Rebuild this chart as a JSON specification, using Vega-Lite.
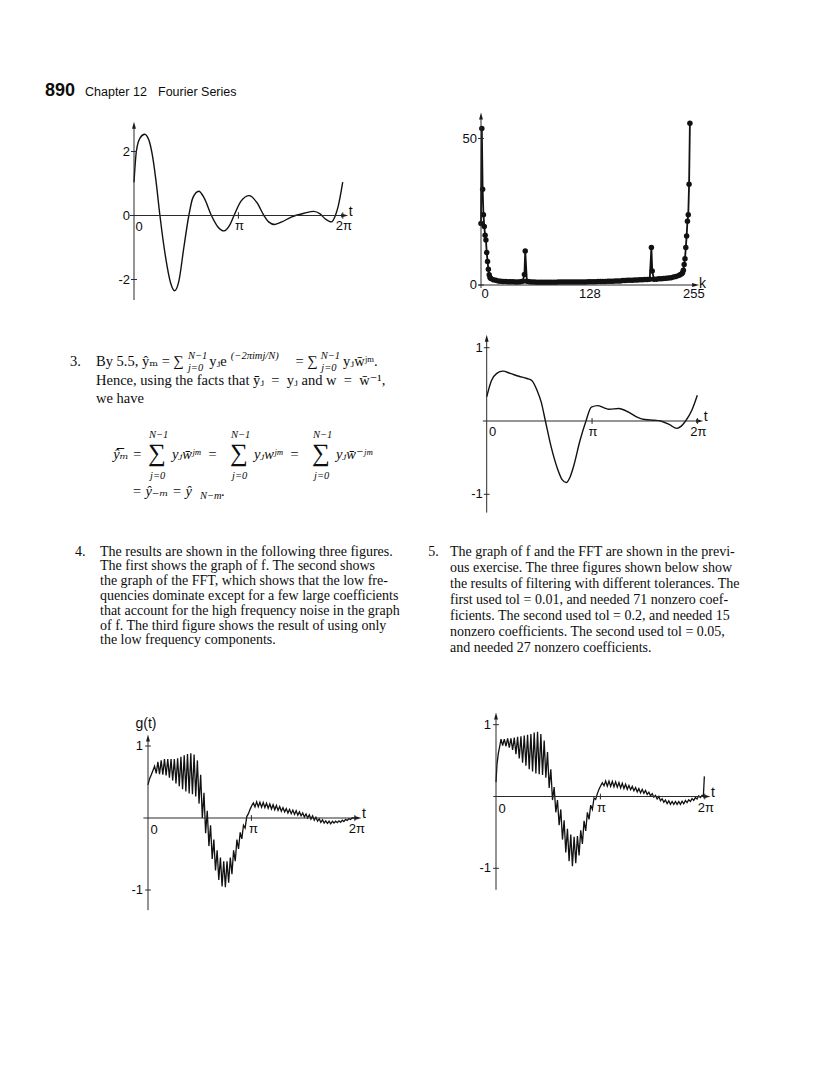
{
 "$schema": "https://vega.github.io/schema/vega-lite/v6.json",
 "width": 840,
 "height": 1076,
 "autosize": {"type": "none"},
 "padding": 0,
 "background": "#ffffff",
 "config": {"view": {"stroke": null}, "text": {"font": "Liberation Serif, DejaVu Serif, serif", "color": "#0d0d0d"}},
 "datasets": {
  "p1": [{"t":0,"v":1.04},{"t":0.07,"v":2.0},{"t":0.18,"v":2.42},{"t":0.32,"v":2.54},{"t":0.45,"v":2.35},{"t":0.55,"v":1.9},{"t":0.66,"v":1.1},{"t":0.78,"v":0},{"t":0.95,"v":-1.3},{"t":1.1,"v":-2.1},{"t":1.22,"v":-2.35},{"t":1.35,"v":-2.05},{"t":1.5,"v":-1.0},{"t":1.65,"v":0},{"t":1.77,"v":0.55},{"t":1.95,"v":0.76},{"t":2.11,"v":0.55},{"t":2.33,"v":0},{"t":2.52,"v":-0.35},{"t":2.71,"v":-0.48},{"t":2.88,"v":-0.3},{"t":3.01,"v":0},{"t":3.22,"v":0.45},{"t":3.47,"v":0.62},{"t":3.7,"v":0.4},{"t":3.91,"v":0},{"t":4.05,"v":-0.2},{"t":4.23,"v":-0.28},{"t":4.45,"v":-0.2},{"t":4.73,"v":-0.05},{"t":5.12,"v":0.07},{"t":5.41,"v":0.13},{"t":5.6,"v":0.05},{"t":5.75,"v":-0.1},{"t":5.94,"v":-0.2},{"t":6.06,"v":0},{"t":6.14,"v":0.27},{"t":6.28,"v":1.04}],
  "p2": [{"k":0,"v":21},{"k":1,"v":53.4},{"k":2,"v":32.7},{"k":3,"v":24},{"k":4,"v":20},{"k":5,"v":17},{"k":6,"v":15.4},{"k":7,"v":11.1},{"k":8,"v":8},{"k":9,"v":5.4},{"k":10,"v":3.5},{"k":11,"v":2.6},{"k":12,"v":2.2},{"k":15,"v":1.8},{"k":18,"v":1.6},{"k":21,"v":1.4},{"k":24,"v":1.3},{"k":27,"v":1.2},{"k":30,"v":1.2},{"k":33,"v":1.1},{"k":36,"v":1.1},{"k":39,"v":1.1},{"k":42,"v":1.0},{"k":45,"v":1.0},{"k":48,"v":1.1},{"k":51,"v":1.3},{"k":53,"v":3.6},{"k":54,"v":11.6},{"k":56,"v":1.3},{"k":59,"v":1.1},{"k":62,"v":1.0},{"k":65,"v":1.0},{"k":68,"v":0.9},{"k":71,"v":0.9},{"k":74,"v":0.9},{"k":77,"v":0.9},{"k":80,"v":0.9},{"k":83,"v":0.9},{"k":86,"v":0.9},{"k":89,"v":0.9},{"k":92,"v":0.9},{"k":95,"v":1.0},{"k":98,"v":1.0},{"k":101,"v":1.0},{"k":104,"v":1.0},{"k":107,"v":1.0},{"k":110,"v":1.0},{"k":113,"v":1.0},{"k":116,"v":1.0},{"k":119,"v":1.0},{"k":122,"v":1.0},{"k":125,"v":1.0},{"k":128,"v":1.0},{"k":131,"v":1.1},{"k":134,"v":1.1},{"k":137,"v":1.1},{"k":140,"v":1.1},{"k":143,"v":1.2},{"k":146,"v":1.2},{"k":149,"v":1.2},{"k":152,"v":1.2},{"k":155,"v":1.3},{"k":158,"v":1.3},{"k":161,"v":1.3},{"k":164,"v":1.4},{"k":167,"v":1.4},{"k":170,"v":1.4},{"k":173,"v":1.5},{"k":176,"v":1.5},{"k":179,"v":1.6},{"k":182,"v":1.6},{"k":185,"v":1.6},{"k":188,"v":1.7},{"k":191,"v":1.7},{"k":194,"v":1.8},{"k":197,"v":1.8},{"k":200,"v":1.9},{"k":203,"v":1.9},{"k":206,"v":2.0},{"k":208,"v":12.8},{"k":209,"v":4.8},{"k":211,"v":2.0},{"k":214,"v":2.0},{"k":217,"v":2.1},{"k":220,"v":2.1},{"k":223,"v":2.2},{"k":226,"v":2.3},{"k":229,"v":2.4},{"k":232,"v":2.5},{"k":235,"v":2.7},{"k":238,"v":2.9},{"k":241,"v":3.2},{"k":243,"v":3.5},{"k":245,"v":3.8},{"k":246,"v":4.2},{"k":247,"v":5},{"k":248,"v":7},{"k":249,"v":9},{"k":250,"v":12.8},{"k":251,"v":16.7},{"k":252,"v":21.8},{"k":253,"v":24},{"k":254,"v":34.4},{"k":255,"v":55.2}],
  "p3": [{"t":0,"v":0.33},{"t":0.14,"v":0.55},{"t":0.3,"v":0.65},{"t":0.48,"v":0.68},{"t":0.7,"v":0.65},{"t":0.96,"v":0.61},{"t":1.2,"v":0.58},{"t":1.35,"v":0.55},{"t":1.5,"v":0.42},{"t":1.63,"v":0.25},{"t":1.75,"v":0},{"t":1.92,"v":-0.35},{"t":2.11,"v":-0.65},{"t":2.25,"v":-0.8},{"t":2.37,"v":-0.84},{"t":2.48,"v":-0.77},{"t":2.59,"v":-0.62},{"t":2.78,"v":-0.27},{"t":2.96,"v":0},{"t":3.12,"v":0.19},{"t":3.31,"v":0.21},{"t":3.5,"v":0.18},{"t":3.65,"v":0.16},{"t":3.94,"v":0.17},{"t":4.23,"v":0.12},{"t":4.5,"v":0.05},{"t":4.71,"v":0.02},{"t":5.0,"v":0.01},{"t":5.19,"v":0},{"t":5.45,"v":-0.05},{"t":5.67,"v":-0.1},{"t":5.8,"v":-0.07},{"t":5.93,"v":0},{"t":6.12,"v":0.15},{"t":6.28,"v":0.35}],
  "p4": [{"t":0,"v":0.46},{"t":0.05,"v":0.55},{"t":0.1,"v":0.6},{"t":0.15,"v":0.66},{"t":0.2,"v":0.72},{"t":0.25,"v":0.62},{"t":0.3,"v":0.78},{"t":0.35,"v":0.61},{"t":0.4,"v":0.8},{"t":0.45,"v":0.6},{"t":0.5,"v":0.82},{"t":0.55,"v":0.59},{"t":0.6,"v":0.82},{"t":0.65,"v":0.56},{"t":0.7,"v":0.82},{"t":0.75,"v":0.52},{"t":0.8,"v":0.82},{"t":0.85,"v":0.48},{"t":0.9,"v":0.83},{"t":0.95,"v":0.44},{"t":1.0,"v":0.85},{"t":1.05,"v":0.4},{"t":1.1,"v":0.87},{"t":1.15,"v":0.37},{"t":1.2,"v":0.89},{"t":1.25,"v":0.34},{"t":1.3,"v":0.9},{"t":1.35,"v":0.33},{"t":1.4,"v":0.88},{"t":1.45,"v":0.3},{"t":1.5,"v":0.8},{"t":1.55,"v":0.2},{"t":1.6,"v":0.6},{"t":1.65,"v":0.0},{"t":1.7,"v":0.35},{"t":1.75,"v":-0.21},{"t":1.8,"v":0.1},{"t":1.85,"v":-0.39},{"t":1.9,"v":-0.1},{"t":1.95,"v":-0.57},{"t":2.0,"v":-0.3},{"t":2.05,"v":-0.73},{"t":2.1,"v":-0.45},{"t":2.15,"v":-0.86},{"t":2.2,"v":-0.55},{"t":2.25,"v":-0.95},{"t":2.3,"v":-0.6},{"t":2.35,"v":-0.96},{"t":2.4,"v":-0.6},{"t":2.45,"v":-0.9},{"t":2.5,"v":-0.55},{"t":2.55,"v":-0.78},{"t":2.6,"v":-0.45},{"t":2.65,"v":-0.6},{"t":2.7,"v":-0.3},{"t":2.75,"v":-0.43},{"t":2.8,"v":-0.2},{"t":2.85,"v":-0.29},{"t":2.9,"v":-0.1},{"t":2.95,"v":-0.14},{"t":3.0,"v":0.02},{"t":3.05,"v":0.06},{"t":3.1,"v":0.12},{"t":3.15,"v":0.17},{"t":3.2,"v":0.21},{"t":3.25,"v":0.155},{"t":3.3,"v":0.225},{"t":3.35,"v":0.155},{"t":3.4,"v":0.22},{"t":3.45,"v":0.15},{"t":3.5,"v":0.215},{"t":3.55,"v":0.145},{"t":3.6,"v":0.205},{"t":3.65,"v":0.135},{"t":3.7,"v":0.195},{"t":3.75,"v":0.125},{"t":3.8,"v":0.185},{"t":3.85,"v":0.115},{"t":3.9,"v":0.175},{"t":3.95,"v":0.105},{"t":4.0,"v":0.16},{"t":4.05,"v":0.095},{"t":4.1,"v":0.145},{"t":4.15,"v":0.085},{"t":4.2,"v":0.13},{"t":4.25,"v":0.07},{"t":4.3,"v":0.12},{"t":4.35,"v":0.06},{"t":4.4,"v":0.11},{"t":4.45,"v":0.05},{"t":4.5,"v":0.1},{"t":4.55,"v":0.04},{"t":4.6,"v":0.085},{"t":4.65,"v":0.03},{"t":4.7,"v":0.07},{"t":4.75,"v":0.015},{"t":4.8,"v":0.055},{"t":4.85,"v":0.0},{"t":4.9,"v":0.045},{"t":4.95,"v":-0.015},{"t":5.0,"v":0.03},{"t":5.05,"v":-0.03},{"t":5.1,"v":0.01},{"t":5.15,"v":-0.045},{"t":5.2,"v":-0.01},{"t":5.25,"v":-0.06},{"t":5.3,"v":-0.025},{"t":5.35,"v":-0.07},{"t":5.4,"v":-0.04},{"t":5.45,"v":-0.075},{"t":5.5,"v":-0.045},{"t":5.55,"v":-0.08},{"t":5.6,"v":-0.045},{"t":5.65,"v":-0.07},{"t":5.7,"v":-0.045},{"t":5.75,"v":-0.065},{"t":5.8,"v":-0.04},{"t":5.85,"v":-0.06},{"t":5.9,"v":-0.03},{"t":5.95,"v":-0.05},{"t":6.0,"v":-0.02},{"t":6.05,"v":-0.035},{"t":6.1,"v":-0.01},{"t":6.15,"v":-0.02},{"t":6.2,"v":0.0},{"t":6.28,"v":0.0}],
  "p5": [{"t":0,"v":0.2},{"t":0.03,"v":0.45},{"t":0.07,"v":0.6},{"t":0.12,"v":0.72},{"t":0.15,"v":0.8},{"t":0.2,"v":0.71},{"t":0.25,"v":0.8},{"t":0.3,"v":0.7},{"t":0.35,"v":0.81},{"t":0.4,"v":0.68},{"t":0.45,"v":0.81},{"t":0.5,"v":0.65},{"t":0.55,"v":0.82},{"t":0.6,"v":0.59},{"t":0.65,"v":0.83},{"t":0.7,"v":0.53},{"t":0.75,"v":0.84},{"t":0.8,"v":0.47},{"t":0.85,"v":0.85},{"t":0.9,"v":0.43},{"t":0.95,"v":0.86},{"t":1.0,"v":0.38},{"t":1.05,"v":0.87},{"t":1.1,"v":0.35},{"t":1.15,"v":0.89},{"t":1.2,"v":0.32},{"t":1.25,"v":0.9},{"t":1.3,"v":0.31},{"t":1.35,"v":0.87},{"t":1.4,"v":0.3},{"t":1.45,"v":0.78},{"t":1.5,"v":0.26},{"t":1.55,"v":0.62},{"t":1.6,"v":0.12},{"t":1.65,"v":0.38},{"t":1.7,"v":-0.05},{"t":1.75,"v":0.13},{"t":1.8,"v":-0.22},{"t":1.85,"v":-0.05},{"t":1.9,"v":-0.4},{"t":1.95,"v":-0.18},{"t":2.0,"v":-0.6},{"t":2.05,"v":-0.33},{"t":2.1,"v":-0.78},{"t":2.15,"v":-0.45},{"t":2.2,"v":-0.9},{"t":2.25,"v":-0.53},{"t":2.3,"v":-0.97},{"t":2.35,"v":-0.56},{"t":2.4,"v":-0.93},{"t":2.45,"v":-0.55},{"t":2.5,"v":-0.82},{"t":2.55,"v":-0.47},{"t":2.6,"v":-0.66},{"t":2.65,"v":-0.34},{"t":2.7,"v":-0.48},{"t":2.75,"v":-0.22},{"t":2.8,"v":-0.32},{"t":2.85,"v":-0.12},{"t":2.9,"v":-0.18},{"t":2.95,"v":-0.02},{"t":3.0,"v":-0.04},{"t":3.05,"v":0.04},{"t":3.1,"v":0.1},{"t":3.15,"v":0.15},{"t":3.2,"v":0.19},{"t":3.25,"v":0.15},{"t":3.3,"v":0.215},{"t":3.35,"v":0.145},{"t":3.4,"v":0.215},{"t":3.45,"v":0.14},{"t":3.5,"v":0.21},{"t":3.55,"v":0.135},{"t":3.6,"v":0.205},{"t":3.65,"v":0.13},{"t":3.7,"v":0.195},{"t":3.75,"v":0.12},{"t":3.8,"v":0.185},{"t":3.85,"v":0.11},{"t":3.9,"v":0.17},{"t":3.95,"v":0.1},{"t":4.0,"v":0.155},{"t":4.05,"v":0.095},{"t":4.1,"v":0.14},{"t":4.15,"v":0.08},{"t":4.2,"v":0.125},{"t":4.25,"v":0.065},{"t":4.3,"v":0.11},{"t":4.35,"v":0.05},{"t":4.4,"v":0.1},{"t":4.45,"v":0.045},{"t":4.5,"v":0.085},{"t":4.55,"v":0.03},{"t":4.6,"v":0.06},{"t":4.65,"v":0.01},{"t":4.7,"v":0.04},{"t":4.75,"v":-0.01},{"t":4.8,"v":0.015},{"t":4.85,"v":-0.035},{"t":4.9,"v":0.0},{"t":4.95,"v":-0.06},{"t":5.0,"v":-0.03},{"t":5.05,"v":-0.08},{"t":5.1,"v":-0.05},{"t":5.15,"v":-0.1},{"t":5.2,"v":-0.06},{"t":5.25,"v":-0.11},{"t":5.3,"v":-0.07},{"t":5.35,"v":-0.11},{"t":5.4,"v":-0.07},{"t":5.45,"v":-0.11},{"t":5.5,"v":-0.07},{"t":5.55,"v":-0.11},{"t":5.6,"v":-0.065},{"t":5.65,"v":-0.1},{"t":5.7,"v":-0.055},{"t":5.75,"v":-0.085},{"t":5.8,"v":-0.045},{"t":5.85,"v":-0.07},{"t":5.9,"v":-0.03},{"t":5.95,"v":-0.055},{"t":6.0,"v":-0.015},{"t":6.05,"v":-0.035},{"t":6.1,"v":0.01},{"t":6.15,"v":-0.015},{"t":6.2,"v":0.015},{"t":6.24,"v":0.0},{"t":6.27,"v":0.28}]
 },
 "resolve": {"scale": {"x": "independent", "y": "independent"}},
 "layer": [
  {
   "encoding": {
    "x": {"field": "part", "type": "nominal", "scale": {"type": "point", "domain": ["num", "ch", "fs"], "range": [45, 158], "padding": 0}, "axis": null},
    "y": {"field": "line", "type": "quantitative", "scale": {"domain": [1, 2], "range": [96, 116]}, "axis": null},
    "text": {"field": "label"}
   },
   "layer": [
    {"data": {"values": [{"part": "num", "line": 1, "label": "890"}]}, "mark": {"type": "text", "align": "left", "baseline": "alphabetic", "font": "Liberation Sans Narrow, Liberation Sans", "fontWeight": "bold", "fontSize": 18}},
    {"data": {"values": [{"part": "ch", "line": 1, "label": "Chapter 12"}]}, "mark": {"type": "text", "align": "left", "baseline": "alphabetic", "dx": -16.5, "font": "Liberation Sans Narrow, Liberation Sans", "fontSize": 12.5}},
    {"data": {"values": [{"part": "fs", "line": 1, "label": "Fourier Series"}]}, "mark": {"type": "text", "align": "left", "baseline": "alphabetic", "font": "Liberation Sans Narrow, Liberation Sans", "fontSize": 12.5}}
   ]
  },
  {
   "layer": [
    {"data": {"name": "p1"}, "mark": {"type": "line", "interpolate": "monotone", "color": "#111111", "strokeWidth": 1.4}, "encoding": {"x": {"field": "t", "type": "quantitative", "scale": {"domain": [0, 6.2832], "range": [134, 350]}, "axis": null}, "y": {"field": "v", "type": "quantitative", "scale": {"domain": [-3, 3], "range": [311.5, 119.5]}, "axis": null}}},
    {"data": {"values": [{}]}, "mark": {"type": "rule", "color": "#2a2a2a", "strokeWidth": 1}, "encoding": {"x": {"datum": -0.12, "type": "quantitative", "axis": null}, "x2": {"datum": 6.34}, "y": {"datum": 0, "type": "quantitative", "axis": null}}},
    {"data": {"values": [{}]}, "mark": {"type": "rule", "color": "#2a2a2a", "strokeWidth": 1}, "encoding": {"x": {"datum": 0, "type": "quantitative", "axis": null}, "y": {"datum": -2.64, "type": "quantitative", "axis": null}, "y2": {"datum": 2.8}}},
    {"data": {"values": [{}]}, "mark": {"type": "point", "shape": "M0,-1L0.55,1L-0.55,1Z", "filled": true, "size": 49, "color": "#1a1a1a", "opacity": 1}, "encoding": {"x": {"datum": 0, "type": "quantitative", "axis": null}, "y": {"datum": 2.82, "type": "quantitative", "axis": null}}},
    {"data": {"values": [{}]}, "mark": {"type": "point", "shape": "M1,0L-1,-0.55L-1,0.55Z", "filled": true, "size": 49, "color": "#1a1a1a", "opacity": 1}, "encoding": {"x": {"datum": 6.34, "type": "quantitative", "axis": null}, "y": {"datum": 0, "type": "quantitative", "axis": null}}},
    {"data": {"values": [{"v": 2}, {"v": 0}, {"v": -2}]}, "mark": {"type": "rule", "color": "#2a2a2a"}, "encoding": {"x": {"datum": -0.09, "type": "quantitative", "axis": null}, "x2": {"datum": 0.09}, "y": {"field": "v", "type": "quantitative", "axis": null}}},
    {"data": {"values": [{"t": 3.1416}, {"t": 6.2832}]}, "mark": {"type": "rule", "color": "#2a2a2a"}, "encoding": {"x": {"field": "t", "type": "quantitative", "axis": null}, "y": {"datum": -0.1, "type": "quantitative", "axis": null}, "y2": {"datum": 0.1}}},
    {"data": {"values": [{"v": 2, "label": "2"}, {"v": 0, "label": "0"}, {"v": -2, "label": "-2"}]}, "mark": {"type": "text", "align": "right", "baseline": "middle", "dx": -4, "font": "Liberation Sans", "fontSize": 13}, "encoding": {"x": {"datum": 0, "type": "quantitative", "axis": null}, "y": {"field": "v", "type": "quantitative", "axis": null}, "text": {"field": "label"}}},
    {"data": {"values": [{"t": 0, "label": "0"}]}, "mark": {"type": "text", "align": "center", "baseline": "top", "dx": 5, "dy": 5, "font": "Liberation Sans", "fontSize": 13}, "encoding": {"x": {"field": "t", "type": "quantitative", "axis": null}, "y": {"datum": 0, "type": "quantitative", "axis": null}, "text": {"field": "label"}}},
    {"data": {"values": [{"t": 3.1416, "label": "π"}, {"t": 6.2832, "label": "2π"}]}, "mark": {"type": "text", "align": "center", "baseline": "top", "dx": 1, "dy": 4, "font": "Liberation Sans", "fontSize": 13}, "encoding": {"x": {"field": "t", "type": "quantitative", "axis": null}, "y": {"datum": 0, "type": "quantitative", "axis": null}, "text": {"field": "label"}}},
    {"data": {"values": [{"label": "t"}]}, "mark": {"type": "text", "align": "left", "baseline": "alphabetic", "dx": 4, "font": "Liberation Sans", "fontSize": 14}, "encoding": {"x": {"datum": 6.34, "type": "quantitative", "axis": null}, "y": {"datum": 0, "type": "quantitative", "axis": null}, "text": {"field": "label"}}}
   ]
  },
  {
   "layer": [
    {"data": {"name": "p2"}, "mark": {"type": "line", "color": "#111111", "strokeWidth": 1.8}, "encoding": {"x": {"field": "k", "type": "quantitative", "scale": {"domain": [0, 255], "range": [481, 694]}, "axis": null}, "y": {"field": "v", "type": "quantitative", "scale": {"domain": [0, 60], "range": [285, 109.2]}, "axis": null}}},
    {"data": {"name": "p2"}, "mark": {"type": "point", "filled": true, "size": 30, "color": "#111111", "opacity": 1}, "encoding": {"x": {"field": "k", "type": "quantitative", "axis": null}, "y": {"field": "v", "type": "quantitative", "axis": null}}},
    {"data": {"values": [{}]}, "mark": {"type": "rule", "color": "#2a2a2a", "strokeWidth": 1}, "encoding": {"x": {"datum": -3, "type": "quantitative", "axis": null}, "x2": {"datum": 262}, "y": {"datum": 0, "type": "quantitative", "axis": null}}},
    {"data": {"values": [{}]}, "mark": {"type": "rule", "color": "#2a2a2a", "strokeWidth": 1}, "encoding": {"x": {"datum": 0, "type": "quantitative", "axis": null}, "y": {"datum": -1, "type": "quantitative", "axis": null}, "y2": {"datum": 57}}},
    {"data": {"values": [{}]}, "mark": {"type": "point", "shape": "M0,-1L0.55,1L-0.55,1Z", "filled": true, "size": 49, "color": "#1a1a1a", "opacity": 1}, "encoding": {"x": {"datum": 0, "type": "quantitative", "axis": null}, "y": {"datum": 57.7, "type": "quantitative", "axis": null}}},
    {"data": {"values": [{}]}, "mark": {"type": "point", "shape": "M1,0L-1,-0.55L-1,0.55Z", "filled": true, "size": 49, "color": "#1a1a1a", "opacity": 1}, "encoding": {"x": {"datum": 262, "type": "quantitative", "axis": null}, "y": {"datum": 0, "type": "quantitative", "axis": null}}},
    {"data": {"values": [{"v": 50}, {"v": 0}]}, "mark": {"type": "rule", "color": "#2a2a2a"}, "encoding": {"x": {"datum": -3.6, "type": "quantitative", "axis": null}, "x2": {"datum": 3.6}, "y": {"field": "v", "type": "quantitative", "axis": null}}},
    {"data": {"values": [{"v": 50, "label": "50"}, {"v": 0, "label": "0"}]}, "mark": {"type": "text", "align": "right", "baseline": "middle", "dx": -4, "font": "Liberation Sans", "fontSize": 13}, "encoding": {"x": {"datum": 0, "type": "quantitative", "axis": null}, "y": {"field": "v", "type": "quantitative", "axis": null}, "text": {"field": "label"}}},
    {"data": {"values": [{"k": 0, "label": "0"}, {"k": 128, "label": "128"}, {"k": 255, "label": "255"}]}, "mark": {"type": "text", "align": "center", "baseline": "top", "dx": 4, "dy": 3, "font": "Liberation Sans", "fontSize": 13}, "encoding": {"x": {"field": "k", "type": "quantitative", "axis": null}, "y": {"datum": 0, "type": "quantitative", "axis": null}, "text": {"field": "label"}}},
    {"data": {"values": [{"label": "k"}]}, "mark": {"type": "text", "align": "left", "baseline": "alphabetic", "dy": 3, "font": "Liberation Sans", "fontSize": 14}, "encoding": {"x": {"datum": 266, "type": "quantitative", "axis": null}, "y": {"datum": 0, "type": "quantitative", "axis": null}, "text": {"field": "label"}}}
   ]
  },
  {
   "encoding": {
    "x": {"field": "col", "type": "nominal", "scale": {"type": "point", "domain": ["num", "body"], "range": [70, 96], "padding": 0}, "axis": null},
    "y": {"field": "line", "type": "quantitative", "scale": {"domain": [1, 8], "range": [366, 496.2]}, "axis": null},
    "text": {"field": "text"}
   },
   "layer": [
    {"data": {"values": [
      {"line": 1, "col": "num", "text": "3."},
      {"line": 1, "col": "body", "text": "By 5.5, \u0177\u2098 = \u2211\u2003\u2002\u2005y\u2c7ce\u2003\u2003\u2003\u2003\u2002\u2005= \u2211\u2003\u2002\u2005y\u2c7cw\u0304\u02b2\u1d50."},
      {"line": 2, "col": "body", "text": "Hence, using the facts that y\u0304\u2c7c\u2002=\u2002y\u2c7c and w\u2002=\u2002w\u0304\u207b\u00b9,"},
      {"line": 3, "col": "body", "text": "we have"}
     ]}, "mark": {"type": "text", "align": "left", "baseline": "alphabetic", "fontSize": 14.5}},
    {"data": {"values": [
      {"line": 1, "col": "body", "text": "\u200b\u2003\u2003\u2003\u2003\u2003\u2003\u2003\u2003\u2002\u2005N\u22121\u2003\u2003\u2005(\u22122\u03c0imj/N)\u2003\u2003\u2003\u2003N\u22121"}
     ]}, "mark": {"type": "text", "align": "left", "baseline": "alphabetic", "fontSize": 10.5, "fontStyle": "italic", "dy": -7}},
    {"data": {"values": [
      {"line": 1, "col": "body", "text": "\u200b\u2003\u2003\u2003\u2003\u2003\u2003\u2003\u2003\u2002\u2005j=0\u2003\u2003\u2003\u2003\u2003\u2003\u2003\u2003\u2003\u2003\u2003\u2005j=0"}
     ]}, "mark": {"type": "text", "align": "left", "baseline": "alphabetic", "fontSize": 10.5, "fontStyle": "italic", "dy": 4.5}}
   ]
  },
  {
   "encoding": {
    "x": {"field": "slot", "type": "nominal", "scale": {"type": "point", "domain": ["s1", "s2", "s3"], "range": [148, 312], "padding": 0}, "axis": null},
    "y": {"field": "line", "type": "quantitative", "scale": {"domain": [1, 8], "range": [366, 496.2]}, "axis": null},
    "text": {"field": "text"}
   },
   "layer": [
    {"data": {"values": [
      {"line": 5, "slot": "s1", "text": "N\u22121"}, {"line": 5, "slot": "s2", "text": "N\u22121"}, {"line": 5, "slot": "s3", "text": "N\u22121"}
     ]}, "mark": {"type": "text", "align": "left", "baseline": "alphabetic", "fontSize": 10.5, "fontStyle": "italic", "dx": 1, "dy": -2}},
    {"data": {"values": [
      {"line": 7, "slot": "s1", "text": "j=0"}, {"line": 7, "slot": "s2", "text": "j=0"}, {"line": 7, "slot": "s3", "text": "j=0"}
     ]}, "mark": {"type": "text", "align": "left", "baseline": "alphabetic", "fontSize": 10.5, "fontStyle": "italic", "dx": 2, "dy": 1}},
    {"data": {"values": [
      {"line": 6, "slot": "s1", "text": "\u2211"}, {"line": 6, "slot": "s2", "text": "\u2211"}, {"line": 6, "slot": "s3", "text": "\u2211"}
     ]}, "mark": {"type": "text", "align": "left", "baseline": "alphabetic", "fontSize": 25, "dy": 2}},
    {"data": {"values": [
      {"line": 6, "slot": "s1", "text": "y\u2c7cw\u0304\u02b2\u1d50\u2002="}, {"line": 6, "slot": "s2", "text": "y\u2c7cw\u02b2\u1d50\u2002="}, {"line": 6, "slot": "s3", "text": "y\u2c7cw\u0304\u207b\u02b2\u1d50"}
     ]}, "mark": {"type": "text", "align": "left", "baseline": "alphabetic", "fontSize": 14.5, "fontStyle": "italic", "dx": 24}},
    {"data": {"values": [{"line": 6, "slot": "s1", "text": "\u0177\u0305\u2098 ="}]}, "mark": {"type": "text", "align": "right", "baseline": "alphabetic", "fontSize": 14.5, "fontStyle": "italic", "dx": -6}},
    {"data": {"values": [{"line": 8, "slot": "s1", "text": "= \u0177\u208b\u2098 = \u0177"}]}, "mark": {"type": "text", "align": "left", "baseline": "alphabetic", "fontSize": 14.5, "fontStyle": "italic", "dx": -16}},
    {"data": {"values": [{"line": 8, "slot": "s1", "text": "N\u2212m"}]}, "mark": {"type": "text", "align": "left", "baseline": "alphabetic", "fontSize": 10.5, "fontStyle": "italic", "dx": 52, "dy": 3}},
    {"data": {"values": [{"line": 8, "slot": "s1", "text": "."}]}, "mark": {"type": "text", "align": "left", "baseline": "alphabetic", "fontSize": 14.5, "dx": 73}}
   ]
  },
  {
   "layer": [
    {"data": {"name": "p3"}, "mark": {"type": "line", "interpolate": "monotone", "color": "#111111", "strokeWidth": 1.4}, "encoding": {"x": {"field": "t", "type": "quantitative", "scale": {"domain": [0, 6.2832], "range": [486.7, 704.7]}, "axis": null}, "y": {"field": "v", "type": "quantitative", "scale": {"domain": [-1, 1], "range": [494.3, 347.7]}, "axis": null}}},
    {"data": {"values": [{}]}, "mark": {"type": "rule", "color": "#2a2a2a", "strokeWidth": 1}, "encoding": {"x": {"datum": -0.115, "type": "quantitative", "axis": null}, "x2": {"datum": 6.35}, "y": {"datum": 0, "type": "quantitative", "axis": null}}},
    {"data": {"values": [{}]}, "mark": {"type": "rule", "color": "#2a2a2a", "strokeWidth": 1}, "encoding": {"x": {"datum": 0, "type": "quantitative", "axis": null}, "y": {"datum": -1.25, "type": "quantitative", "axis": null}, "y2": {"datum": 1.1}}},
    {"data": {"values": [{}]}, "mark": {"type": "point", "shape": "M0,-1L0.55,1L-0.55,1Z", "filled": true, "size": 49, "color": "#1a1a1a", "opacity": 1}, "encoding": {"x": {"datum": 0, "type": "quantitative", "axis": null}, "y": {"datum": 1.13, "type": "quantitative", "axis": null}}},
    {"data": {"values": [{}]}, "mark": {"type": "point", "shape": "M1,0L-1,-0.55L-1,0.55Z", "filled": true, "size": 49, "color": "#1a1a1a", "opacity": 1}, "encoding": {"x": {"datum": 6.35, "type": "quantitative", "axis": null}, "y": {"datum": 0, "type": "quantitative", "axis": null}}},
    {"data": {"values": [{"v": 1}, {"v": -1}]}, "mark": {"type": "rule", "color": "#2a2a2a"}, "encoding": {"x": {"datum": -0.086, "type": "quantitative", "axis": null}, "x2": {"datum": 0.086}, "y": {"field": "v", "type": "quantitative", "axis": null}}},
    {"data": {"values": [{"t": 3.1416}, {"t": 6.2832}]}, "mark": {"type": "rule", "color": "#2a2a2a"}, "encoding": {"x": {"field": "t", "type": "quantitative", "axis": null}, "y": {"datum": -0.04, "type": "quantitative", "axis": null}, "y2": {"datum": 0.04}}},
    {"data": {"values": [{"v": 1, "label": "1"}, {"v": -1, "label": "-1"}]}, "mark": {"type": "text", "align": "right", "baseline": "middle", "dx": -4, "font": "Liberation Sans", "fontSize": 13}, "encoding": {"x": {"datum": 0, "type": "quantitative", "axis": null}, "y": {"field": "v", "type": "quantitative", "axis": null}, "text": {"field": "label"}}},
    {"data": {"values": [{"t": 0, "label": "0"}]}, "mark": {"type": "text", "align": "center", "baseline": "top", "dx": 6, "dy": 5, "font": "Liberation Sans", "fontSize": 13}, "encoding": {"x": {"field": "t", "type": "quantitative", "axis": null}, "y": {"datum": 0, "type": "quantitative", "axis": null}, "text": {"field": "label"}}},
    {"data": {"values": [{"t": 3.1416, "label": "π"}, {"t": 6.2832, "label": "2π"}]}, "mark": {"type": "text", "align": "center", "baseline": "top", "dx": 1, "dy": 5, "font": "Liberation Sans", "fontSize": 13}, "encoding": {"x": {"field": "t", "type": "quantitative", "axis": null}, "y": {"datum": 0, "type": "quantitative", "axis": null}, "text": {"field": "label"}}},
    {"data": {"values": [{"label": "t"}]}, "mark": {"type": "text", "align": "left", "baseline": "alphabetic", "dx": 4, "font": "Liberation Sans", "fontSize": 14}, "encoding": {"x": {"datum": 6.35, "type": "quantitative", "axis": null}, "y": {"datum": 0, "type": "quantitative", "axis": null}, "text": {"field": "label"}}}
   ]
  },
  {
   "encoding": {
    "x": {"field": "col", "type": "nominal", "scale": {"type": "point", "domain": ["num", "body"], "range": [75, 100], "padding": 0}, "axis": null},
    "y": {"field": "line", "type": "quantitative", "scale": {"domain": [1, 7], "range": [555.5, 644.3]}, "axis": null},
    "text": {"field": "text"}
   },
   "layer": [
    {"data": {"values": [
      {"line": 1, "col": "num", "text": "4."},
      {"line": 1, "col": "body", "text": "The results are shown in the following three figures."},
      {"line": 2, "col": "body", "text": "The first shows the graph of f. The second shows"},
      {"line": 3, "col": "body", "text": "the graph of the FFT, which shows that the low fre-"},
      {"line": 4, "col": "body", "text": "quencies dominate except for a few large coefficients"},
      {"line": 5, "col": "body", "text": "that account for the high frequency noise in the graph"},
      {"line": 6, "col": "body", "text": "of f. The third figure shows the result of using only"},
      {"line": 7, "col": "body", "text": "the low frequency components."}
     ]}, "mark": {"type": "text", "align": "left", "baseline": "alphabetic", "fontSize": 14}}
   ]
  },
  {
   "encoding": {
    "x": {"field": "col", "type": "nominal", "scale": {"type": "point", "domain": ["num", "body"], "range": [428.3, 450], "padding": 0}, "axis": null},
    "y": {"field": "line", "type": "quantitative", "scale": {"domain": [1, 7], "range": [555.5, 652]}, "axis": null},
    "text": {"field": "text"}
   },
   "layer": [
    {"data": {"values": [
      {"line": 1, "col": "num", "text": "5."},
      {"line": 1, "col": "body", "text": "The graph of f and the FFT are shown in the previ-"},
      {"line": 2, "col": "body", "text": "ous exercise. The three figures shown below show"},
      {"line": 3, "col": "body", "text": "the results of filtering with different tolerances. The"},
      {"line": 4, "col": "body", "text": "first used tol = 0.01, and needed 71 nonzero coef-"},
      {"line": 5, "col": "body", "text": "ficients. The second used tol = 0.2, and needed 15"},
      {"line": 6, "col": "body", "text": "nonzero coefficients. The second used tol = 0.05,"},
      {"line": 7, "col": "body", "text": "and needed 27 nonzero coefficients."}
     ]}, "mark": {"type": "text", "align": "left", "baseline": "alphabetic", "fontSize": 14}}
   ]
  },
  {
   "layer": [
    {"data": {"name": "p4"}, "mark": {"type": "line", "color": "#111111", "strokeWidth": 1.3}, "encoding": {"x": {"field": "t", "type": "quantitative", "scale": {"domain": [0, 6.2832], "range": [148, 362]}, "axis": null}, "y": {"field": "v", "type": "quantitative", "scale": {"domain": [-1, 1], "range": [890, 746]}, "axis": null}}},
    {"data": {"values": [{}]}, "mark": {"type": "rule", "color": "#2a2a2a", "strokeWidth": 1}, "encoding": {"x": {"datum": -0.14, "type": "quantitative", "axis": null}, "x2": {"datum": 6.38}, "y": {"datum": 0, "type": "quantitative", "axis": null}}},
    {"data": {"values": [{}]}, "mark": {"type": "rule", "color": "#2a2a2a", "strokeWidth": 1}, "encoding": {"x": {"datum": 0, "type": "quantitative", "axis": null}, "y": {"datum": -1.28, "type": "quantitative", "axis": null}, "y2": {"datum": 1.08}}},
    {"data": {"values": [{}]}, "mark": {"type": "point", "shape": "M0,-1L0.55,1L-0.55,1Z", "filled": true, "size": 49, "color": "#1a1a1a", "opacity": 1}, "encoding": {"x": {"datum": 0, "type": "quantitative", "axis": null}, "y": {"datum": 1.11, "type": "quantitative", "axis": null}}},
    {"data": {"values": [{}]}, "mark": {"type": "point", "shape": "M1,0L-1,-0.55L-1,0.55Z", "filled": true, "size": 49, "color": "#1a1a1a", "opacity": 1}, "encoding": {"x": {"datum": 6.38, "type": "quantitative", "axis": null}, "y": {"datum": 0, "type": "quantitative", "axis": null}}},
    {"data": {"values": [{"v": 1}, {"v": -1}]}, "mark": {"type": "rule", "color": "#2a2a2a"}, "encoding": {"x": {"datum": -0.088, "type": "quantitative", "axis": null}, "x2": {"datum": 0.088}, "y": {"field": "v", "type": "quantitative", "axis": null}}},
    {"data": {"values": [{"t": 3.1416}, {"t": 6.2832}]}, "mark": {"type": "rule", "color": "#2a2a2a"}, "encoding": {"x": {"field": "t", "type": "quantitative", "axis": null}, "y": {"datum": -0.04, "type": "quantitative", "axis": null}, "y2": {"datum": 0.04}}},
    {"data": {"values": [{"v": 1, "label": "1"}, {"v": -1, "label": "-1"}]}, "mark": {"type": "text", "align": "right", "baseline": "middle", "dx": -5, "font": "Liberation Sans", "fontSize": 13}, "encoding": {"x": {"datum": 0, "type": "quantitative", "axis": null}, "y": {"field": "v", "type": "quantitative", "axis": null}, "text": {"field": "label"}}},
    {"data": {"values": [{"label": "g(t)"}]}, "mark": {"type": "text", "align": "center", "baseline": "bottom", "dx": -2, "dy": -4, "font": "Liberation Sans", "fontSize": 14}, "encoding": {"x": {"datum": 0, "type": "quantitative", "axis": null}, "y": {"datum": 1.15, "type": "quantitative", "axis": null}, "text": {"field": "label"}}},
    {"data": {"values": [{"t": 0, "label": "0"}]}, "mark": {"type": "text", "align": "center", "baseline": "top", "dx": 6, "dy": 6, "font": "Liberation Sans", "fontSize": 13}, "encoding": {"x": {"field": "t", "type": "quantitative", "axis": null}, "y": {"datum": 0, "type": "quantitative", "axis": null}, "text": {"field": "label"}}},
    {"data": {"values": [{"t": 3.1416, "label": "π"}, {"t": 6.2832, "label": "2π"}]}, "mark": {"type": "text", "align": "center", "baseline": "top", "dx": 2, "dy": 5, "font": "Liberation Sans", "fontSize": 13}, "encoding": {"x": {"field": "t", "type": "quantitative", "axis": null}, "y": {"datum": 0, "type": "quantitative", "axis": null}, "text": {"field": "label"}}},
    {"data": {"values": [{"label": "t"}]}, "mark": {"type": "text", "align": "left", "baseline": "alphabetic", "dx": 4, "font": "Liberation Sans", "fontSize": 14}, "encoding": {"x": {"datum": 6.38, "type": "quantitative", "axis": null}, "y": {"datum": 0, "type": "quantitative", "axis": null}, "text": {"field": "label"}}}
   ]
  },
  {
   "layer": [
    {"data": {"name": "p5"}, "mark": {"type": "line", "color": "#111111", "strokeWidth": 1.3}, "encoding": {"x": {"field": "t", "type": "quantitative", "scale": {"domain": [0, 6.2832], "range": [496, 712]}, "axis": null}, "y": {"field": "v", "type": "quantitative", "scale": {"domain": [-1, 1], "range": [868.3, 724.7]}, "axis": null}}},
    {"data": {"values": [{}]}, "mark": {"type": "rule", "color": "#2a2a2a", "strokeWidth": 1}, "encoding": {"x": {"datum": -0.08, "type": "quantitative", "axis": null}, "x2": {"datum": 6.35}, "y": {"datum": 0, "type": "quantitative", "axis": null}}},
    {"data": {"values": [{}]}, "mark": {"type": "rule", "color": "#2a2a2a", "strokeWidth": 1}, "encoding": {"x": {"datum": 0, "type": "quantitative", "axis": null}, "y": {"datum": -1.3, "type": "quantitative", "axis": null}, "y2": {"datum": 1.09}}},
    {"data": {"values": [{}]}, "mark": {"type": "point", "shape": "M0,-1L0.55,1L-0.55,1Z", "filled": true, "size": 49, "color": "#1a1a1a", "opacity": 1}, "encoding": {"x": {"datum": 0, "type": "quantitative", "axis": null}, "y": {"datum": 1.12, "type": "quantitative", "axis": null}}},
    {"data": {"values": [{}]}, "mark": {"type": "point", "shape": "M1,0L-1,-0.55L-1,0.55Z", "filled": true, "size": 49, "color": "#1a1a1a", "opacity": 1}, "encoding": {"x": {"datum": 6.35, "type": "quantitative", "axis": null}, "y": {"datum": 0, "type": "quantitative", "axis": null}}},
    {"data": {"values": [{"v": 1}, {"v": -1}]}, "mark": {"type": "rule", "color": "#2a2a2a"}, "encoding": {"x": {"datum": -0.087, "type": "quantitative", "axis": null}, "x2": {"datum": 0.087}, "y": {"field": "v", "type": "quantitative", "axis": null}}},
    {"data": {"values": [{"t": 3.1416}, {"t": 6.2832}]}, "mark": {"type": "rule", "color": "#2a2a2a"}, "encoding": {"x": {"field": "t", "type": "quantitative", "axis": null}, "y": {"datum": -0.04, "type": "quantitative", "axis": null}, "y2": {"datum": 0.04}}},
    {"data": {"values": [{"v": 1, "label": "1"}, {"v": -1, "label": "-1"}]}, "mark": {"type": "text", "align": "right", "baseline": "middle", "dx": -5, "font": "Liberation Sans", "fontSize": 13}, "encoding": {"x": {"datum": 0, "type": "quantitative", "axis": null}, "y": {"field": "v", "type": "quantitative", "axis": null}, "text": {"field": "label"}}},
    {"data": {"values": [{"t": 0, "label": "0"}]}, "mark": {"type": "text", "align": "center", "baseline": "top", "dx": 6, "dy": 6, "font": "Liberation Sans", "fontSize": 13}, "encoding": {"x": {"field": "t", "type": "quantitative", "axis": null}, "y": {"datum": 0, "type": "quantitative", "axis": null}, "text": {"field": "label"}}},
    {"data": {"values": [{"t": 3.1416, "label": "π"}, {"t": 6.2832, "label": "2π"}]}, "mark": {"type": "text", "align": "center", "baseline": "top", "dx": 1, "dy": 5, "font": "Liberation Sans", "fontSize": 13}, "encoding": {"x": {"field": "t", "type": "quantitative", "axis": null}, "y": {"datum": 0, "type": "quantitative", "axis": null}, "text": {"field": "label"}}},
    {"data": {"values": [{"label": "t"}]}, "mark": {"type": "text", "align": "left", "baseline": "alphabetic", "dx": 4, "font": "Liberation Sans", "fontSize": 14}, "encoding": {"x": {"datum": 6.35, "type": "quantitative", "axis": null}, "y": {"datum": 0, "type": "quantitative", "axis": null}, "text": {"field": "label"}}}
   ]
  }
 ]
}
